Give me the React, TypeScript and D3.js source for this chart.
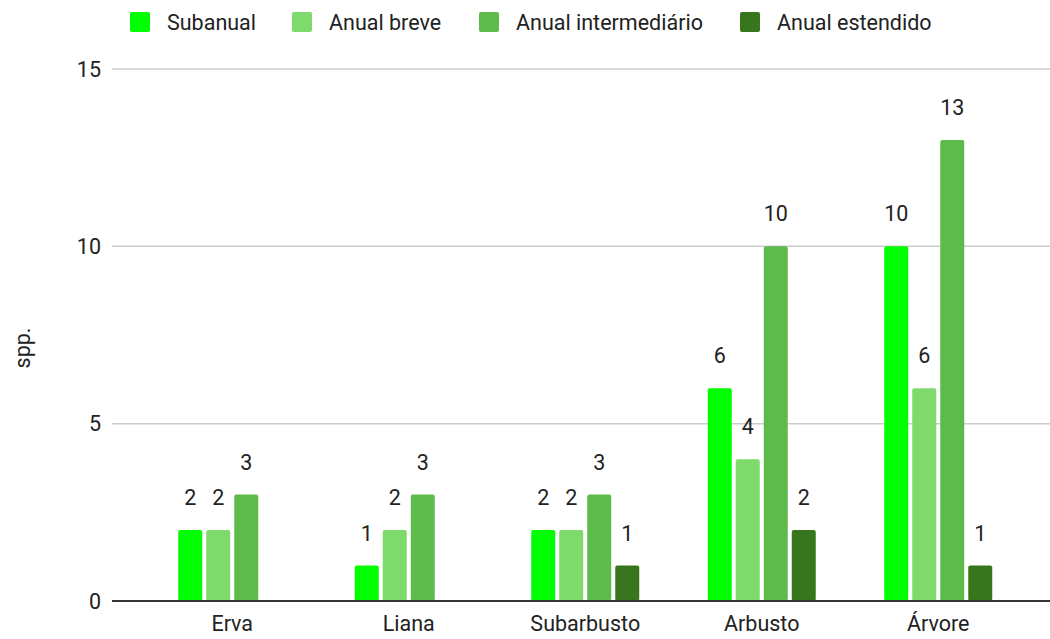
import React from "react";
import * as d3 from "d3";

const categories = ["Erva", "Liana", "Subarbusto", "Arbusto", "Árvore"];
const seriesNames = ["Subanual", "Anual breve", "Anual intermediário", "Anual estendido"];
const subanual = [2, 1, 2, 6, 10];
const anualBreve = [2, 2, 2, 4, 6];
const anualIntermediario = [3, 3, 3, 10, 13];
const anualEstendido = [0, 0, 1, 2, 1];
const yTicks = [0, 5, 10, 15];
const colors = ["#00ff00", "#7edb6b", "#5cbb4b", "#38761d"];

const W = 1050;
const H = 639;

export default function App() {
  const series = [subanual, anualBreve, anualIntermediario, anualEstendido];
  const y = d3.scaleLinear().domain([0, 15]).range([601, 69]);
  const x0 = d3.scaleBand<string>().domain(categories).range([144, 1026.5]).paddingInner(0).paddingOuter(0);
  const bw = x0.bandwidth();
  const groupW = 108;
  const x1 = d3
    .scaleBand<string>()
    .domain(seriesNames)
    .range([(bw - groupW) / 2, (bw + groupW) / 2])
    .paddingInner(4 / 28);
  const legendX = [130, 292, 479, 740];
  const font = "Roboto, Arial, sans-serif";
  const fs = 21.5;

  return (
    <svg width={W} height={H} style={{ position: "absolute", left: 0, top: 0, background: "#fff" }} fontFamily={font}>
      <rect x={0} y={0} width={W} height={H} fill="#fff" />
      {seriesNames.map((s, i) => (
        <g key={s}>
          <rect x={legendX[i]} y={12} width={20} height={20} rx={2} fill={colors[i]} />
          <text x={legendX[i] + 37} y={22} dy="0.35em" fontSize={fs} fill="#222">
            {s}
          </text>
        </g>
      ))}
      {yTicks.map((t) => (
        <g key={t}>
          {t !== 0 && <line x1={112} x2={1050} y1={y(t)} y2={y(t)} stroke="#cccccc" strokeWidth={1.5} />}
          <text x={101} y={y(t)} dy="0.35em" textAnchor="end" fontSize={fs} fill="#222">
            {t}
          </text>
        </g>
      ))}
      <text transform={`translate(22,348) rotate(-90)`} textAnchor="middle" dy="0.35em" fontSize={fs} fill="#222">
        spp.
      </text>
      {categories.map((c, ci) => (
        <g key={c} transform={`translate(${x0(c)},0)`}>
          {series.map((vals, si) => {
            const v = vals[ci];
            if (!v) return null;
            const bx = x1(seriesNames[si])!;
            return (
              <g key={si}>
                <rect x={bx} y={y(v)} width={x1.bandwidth()} height={y(0) - y(v)} rx={2} fill={colors[si]} />
                <text x={bx + x1.bandwidth() / 2} y={y(v) - 25} textAnchor="middle" fontSize={fs} fill="#222">
                  {v}
                </text>
              </g>
            );
          })}
          <text x={bw / 2} y={623} dy="0.35em" textAnchor="middle" fontSize={fs} fill="#222">
            {c}
          </text>
        </g>
      ))}
      <line x1={112} x2={1050} y1={y(0)} y2={y(0)} stroke="#333" strokeWidth={2} />
    </svg>
  );
}
